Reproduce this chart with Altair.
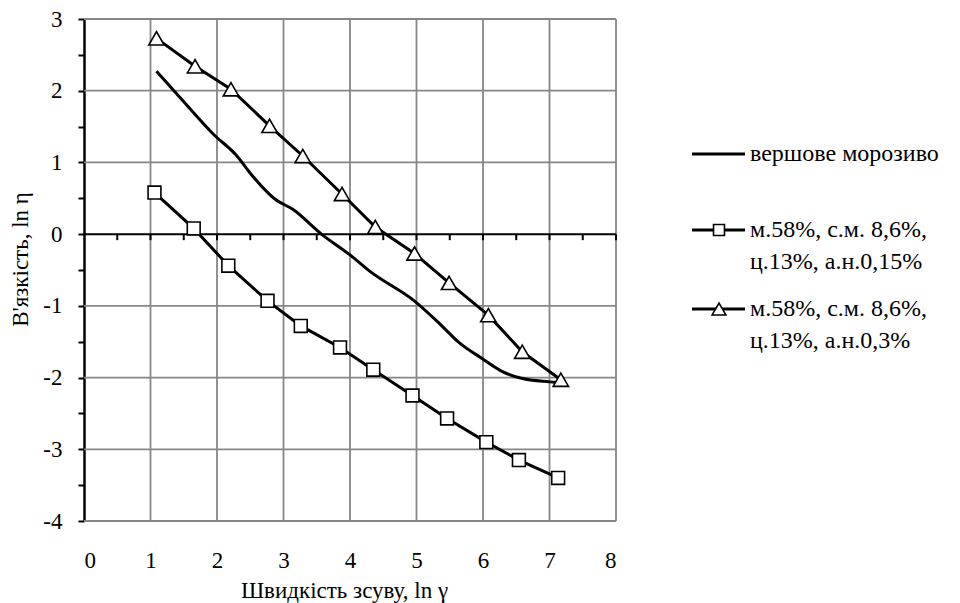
import altair as alt
import pandas as pd

# ---- data ----
ice_x = [1.09, 1.45, 1.95, 2.30, 2.50, 2.87, 3.15, 3.57, 4.00, 4.30, 4.98, 5.35, 5.65, 5.98, 6.30, 6.58, 7.00, 7.12]
ice_y = [2.27, 1.90, 1.39, 1.09, 0.85, 0.49, 0.34, 0.00, -0.29, -0.52, -0.94, -1.25, -1.52, -1.73, -1.92, -2.01, -2.06, -2.07]

sq_x = [1.06, 1.65, 2.17, 2.76, 3.26, 3.85, 4.35, 4.94, 5.46, 6.05, 6.54, 7.13]
sq_y = [0.58, 0.08, -0.44, -0.93, -1.28, -1.58, -1.89, -2.25, -2.57, -2.90, -3.15, -3.40]

tr_x = [1.09, 1.67, 2.21, 2.79, 3.29, 3.88, 4.38, 4.97, 5.49, 6.08, 6.59, 7.17]
tr_y = [2.73, 2.34, 2.02, 1.51, 1.09, 0.56, 0.10, -0.27, -0.68, -1.13, -1.64, -2.03]

legend_labels = [
    ["вершове морозиво"],
    ["м.58%,  с.м. 8,6%,", "ц.13%, а.н.0,15%"],
    ["м.58%,  с.м. 8,6%,", "ц.13%, а.н.0,3%"],
]

x_major = [0, 1, 2, 3, 4, 5, 6, 7, 8]
y_major = [-4, -3, -2, -1, 0, 1, 2, 3]
x_half = [0.5, 1, 1.5, 2, 2.5, 3, 3.5, 4, 4.5, 5, 5.5, 6, 6.5, 7, 7.5, 8]
y_half = [-4, -3.5, -3, -2.5, -2, -1.5, -1, -0.5, 0, 0.5, 1, 1.5, 2, 2.5, 3]

x_title = "Швидкість зсуву, ln γ"
y_title = "В'язкість, ln η"

# ---- style ----
W, H = 532, 502
FONT = "Liberation Serif, DejaVu Serif, serif"
FS = 23
GRID = "#878787"

xs = alt.Scale(domain=[0, 8], nice=False, zero=False)
ys = alt.Scale(domain=[-4, 3], nice=False, zero=False)

x_axis = alt.Axis(values=x_major, domain=False, ticks=False, grid=False,
                  labelFont=FONT, labelFontSize=FS, labelColor="black", labelPadding=28,
                  labelExpr="'' + datum.value",
                  title=x_title, titleFont=FONT, titleFontSize=FS, titleFontWeight="normal",
                  titleColor="black", titleBaseline="alphabetic", titleY=76, titleX=260)
y_axis = alt.Axis(values=y_half, domain=True, domainColor="black", domainWidth=2.5,
                  ticks=True, tickColor="black", tickSize=6, tickWidth=2, grid=False,
                  labelFont=FONT, labelFontSize=FS, labelColor="black", labelPadding=16,
                  labelExpr="datum.value % 1 === 0 ? '' + datum.value : ''",
                  title=y_title, titleFont=FONT, titleFontSize=FS, titleFontWeight="normal",
                  titleColor="black", titleBaseline="alphabetic", titleAngle=270,
                  titleX=-57, titleY=240)

X = lambda f: alt.X(f, scale=xs, axis=x_axis)
Y = lambda f: alt.Y(f, scale=ys, axis=y_axis)

gx = pd.DataFrame({"x": [v for v in x_major if v > 0]})
gy = pd.DataFrame({"y": [v for v in y_major if v != 0]})

vgrid = alt.Chart(gx).mark_rule(color=GRID, strokeWidth=1.8).encode(
    x=X("x:Q"), y=alt.value(0), y2=alt.value(H))
hgrid = alt.Chart(gy).mark_rule(color=GRID, strokeWidth=1.8).encode(
    y=Y("y:Q"), x=alt.value(0), x2=alt.value(W))

zero_df = pd.DataFrame({"y": [0]})
zero_line = alt.Chart(zero_df).mark_rule(color="black", strokeWidth=2).encode(
    y=Y("y:Q"), x=alt.value(0), x2=alt.value(W))

tick_df = pd.DataFrame({"x": x_half, "y": [0] * len(x_half)})
zero_ticks = alt.Chart(tick_df).mark_tick(orient="vertical", color="black", size=6,
                                         thickness=2, yOffset=3, opacity=1).encode(
    x=X("x:Q"), y=Y("y:Q"))

ice_df = pd.DataFrame({"x": ice_x, "y": ice_y})
sq_df = pd.DataFrame({"x": sq_x, "y": sq_y})
tr_df = pd.DataFrame({"x": tr_x, "y": tr_y})

def enc(ch):
    return ch.encode(x=X("x:Q"), y=Y("y:Q"))

ice_line = enc(alt.Chart(ice_df).mark_line(color="black", strokeWidth=3, interpolate="monotone"))
sq_line = enc(alt.Chart(sq_df).mark_line(color="black", strokeWidth=3))
tr_line = enc(alt.Chart(tr_df).mark_line(color="black", strokeWidth=3))
sq_pts = enc(alt.Chart(sq_df).mark_point(shape="square", filled=True, fill="white",
                                         stroke="black", strokeWidth=1.6, size=165, opacity=1))
tr_pts = enc(alt.Chart(tr_df).mark_point(shape="triangle-up", filled=True, fill="white",
                                         stroke="black", strokeWidth=1.6, size=235, opacity=1))

# ---- legend (drawn manually, to the right of the plot) ----
one = alt.Data(values=[{}])
LX0, LX1, LSYM, LTX = 608, 661, 635, 666
rows = [135, 211, 290]

legend_layers = []
for i, yy in enumerate(rows):
    legend_layers.append(alt.Chart(one).mark_rule(color="black", strokeWidth=3).encode(
        x=alt.value(LX0), x2=alt.value(LX1), y=alt.value(yy)))
legend_layers.append(alt.Chart(one).mark_point(shape="square", filled=True, fill="white",
    stroke="black", strokeWidth=1.6, size=120, opacity=1).encode(
    x=alt.value(LSYM), y=alt.value(rows[1])))
legend_layers.append(alt.Chart(one).mark_point(shape="triangle-up", filled=True, fill="white",
    stroke="black", strokeWidth=1.6, size=190, opacity=1).encode(
    x=alt.value(LSYM), y=alt.value(rows[2])))
for i, yy in enumerate(rows):
    legend_layers.append(alt.Chart(one).mark_text(
        align="left", baseline="top", font=FONT, fontSize=24, color="black",
        lineHeight=32, text=legend_labels[i]).encode(
        x=alt.value(LTX), y=alt.value(yy - 12)))

chart = alt.layer(vgrid, hgrid, zero_line, zero_ticks, ice_line, sq_line, tr_line,
                  sq_pts, tr_pts, *legend_layers).properties(
    width=W, height=H,
    padding={"left": 84, "top": 19, "right": 344, "bottom": 82},
    autosize=alt.AutoSizeParams(type="none"),
    background="white",
).configure_view(stroke=None)

chart.save("out.html", embed_options={"renderer": "svg", "actions": False})
